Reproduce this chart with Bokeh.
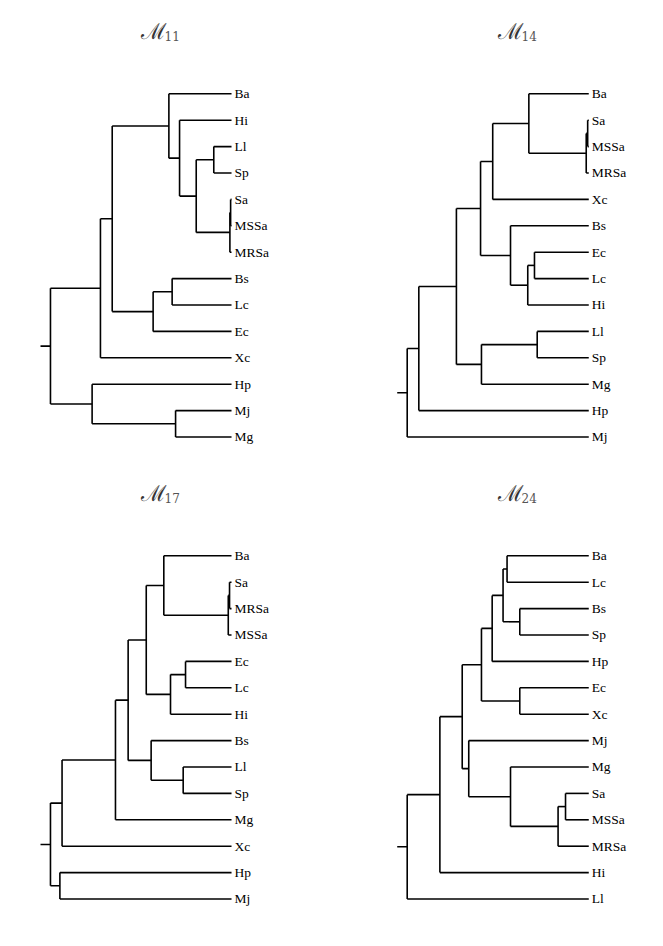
from bokeh.plotting import figure
from bokeh.layouts import gridplot
from bokeh.models import ColumnDataSource, Range1d, Label
from bokeh.core.properties import value
from bokeh.embed import file_html
from bokeh.resources import INLINE

# ---------------- data ----------------
titles = ["11", "14", "17", "24"]

leaves11 = ["Ba", "Hi", "Ll", "Sp", "Sa", "MSSa", "MRSa", "Bs", "Lc", "Ec", "Xc", "Hp", "Mj", "Mg"]
merges11 = [
    ("Sa", "MSSa", 0.005),
    (0, "MRSa", 0.009),
    ("Ll", "Sp", 0.098),
    (2, 1, 0.195),
    ("Hi", 3, 0.287),
    ("Ba", 4, 0.346),
    ("Bs", "Lc", 0.328),
    (6, "Ec", 0.433),
    (5, 7, 0.659),
    (8, "Xc", 0.724),
    ("Mj", "Mg", 0.309),
    ("Hp", 10, 0.770),
    (9, 11, 1.0),
]

leaves14 = ["Ba", "Sa", "MSSa", "MRSa", "Xc", "Bs", "Ec", "Lc", "Hi", "Ll", "Sp", "Mg", "Hp", "Mj"]
merges14 = [
    ("Sa", "MSSa", 0.006),
    (0, "MRSa", 0.014),
    ("Ba", 1, 0.330),
    (2, "Xc", 0.529),
    ("Ec", "Lc", 0.299),
    (4, "Hi", 0.336),
    ("Bs", 5, 0.431),
    (3, 6, 0.596),
    ("Ll", "Sp", 0.284),
    (8, "Mg", 0.591),
    (7, 9, 0.729),
    (10, "Hp", 0.936),
    (11, "Mj", 1.0),
]

leaves17 = ["Ba", "Sa", "MRSa", "MSSa", "Ec", "Lc", "Hi", "Bs", "Ll", "Sp", "Mg", "Xc", "Hp", "Mj"]
merges17 = [
    ("Sa", "MRSa", 0.011),
    (0, "MSSa", 0.018),
    ("Ba", 1, 0.374),
    ("Ec", "Lc", 0.254),
    (3, "Hi", 0.337),
    (2, 4, 0.471),
    ("Ll", "Sp", 0.267),
    ("Bs", 6, 0.444),
    (5, 7, 0.571),
    (8, "Mg", 0.641),
    (9, "Xc", 0.936),
    ("Hp", "Mj", 0.948),
    (10, 11, 1.0),
]

leaves24 = ["Ba", "Lc", "Bs", "Sp", "Hp", "Ec", "Xc", "Mj", "Mg", "Sa", "MSSa", "MRSa", "Hi", "Ll"]
merges24 = [
    ("Ba", "Lc", 0.450),
    ("Bs", "Sp", 0.380),
    (0, 1, 0.472),
    (2, "Hp", 0.532),
    ("Ec", "Xc", 0.380),
    (3, 4, 0.591),
    ("Sa", "MSSa", 0.128),
    (6, "MRSa", 0.169),
    ("Mg", 7, 0.431),
    ("Mj", 8, 0.661),
    (5, 9, 0.697),
    (10, "Hi", 0.820),
    (11, "Ll", 1.0),
]

trees = [(leaves11, merges11), (leaves14, merges14), (leaves17, merges17), (leaves24, merges24)]

# ---------------- drawing ----------------
W, H = 323, 462
FONT = value("Liberation Serif")


def build(leaves, merges, col):
    pos = {name: (0.0, float(i)) for i, name in enumerate(leaves)}
    x0, y0, x1, y1 = [], [], [], []
    for k, (a, b, h) in enumerate(merges):
        ha, ya = pos[a]
        hb, yb = pos[b]
        x0 += [h, ha, hb]
        y0 += [ya, ya, yb]
        x1 += [h, h, h]
        y1 += [yb, ya, yb]
        pos[k] = (h, (ya + yb) / 2.0)
    hr, yr = pos[len(merges) - 1]
    stub = 0.055
    x0.append(hr); y0.append(yr); x1.append(hr + stub); y1.append(yr)

    if col == 0:
        xr = Range1d(1.276, -0.508)
    else:
        xr = Range1d(1.461, -0.318)
    yr_ = Range1d(13.966, -3.534)
    p = figure(width=W, height=H, x_range=xr, y_range=yr_, output_backend="svg",
               toolbar_location=None, min_border=0)
    p.axis.visible = False
    p.grid.visible = False
    p.outline_line_color = None
    p.min_border_left = p.min_border_right = p.min_border_top = p.min_border_bottom = 0

    seg = ColumnDataSource(dict(x0=x0, y0=y0, x1=x1, y1=y1))
    p.segment("x0", "y0", "x1", "y1", source=seg, line_color="black", line_width=1.6)

    lab = ColumnDataSource(dict(x=[0.0] * len(leaves), y=list(range(len(leaves))), t=leaves))
    p.text("x", "y", text="t", source=lab, x_offset=3, text_font=FONT,
           text_font_size="13.5px", text_baseline="middle", text_align="left",
           text_color="black")
    return p


plots = []
for i, (lv, mg) in enumerate(trees):
    col = i % 2
    p = build(lv, mg, col)
    cx = 153 if col == 0 else 187
    p.add_layout(Label(x=cx, y=431, x_units="screen", y_units="screen", text="ℳ",
                       text_font="DejaVu Serif", text_font_size="22px", text_align="center",
                       text_baseline="middle", text_color="#333333"))
    p.add_layout(Label(x=cx + 11, y=427, x_units="screen", y_units="screen", text=titles[i],
                       text_font="DejaVu Serif", text_font_size="12px", text_align="left",
                       text_baseline="middle", text_color="#555555"))
    plots.append(p)

grid = gridplot([[plots[0], plots[1]], [plots[2], plots[3]]], toolbar_location=None)

open("out.html", "w").write(file_html(grid, INLINE))
